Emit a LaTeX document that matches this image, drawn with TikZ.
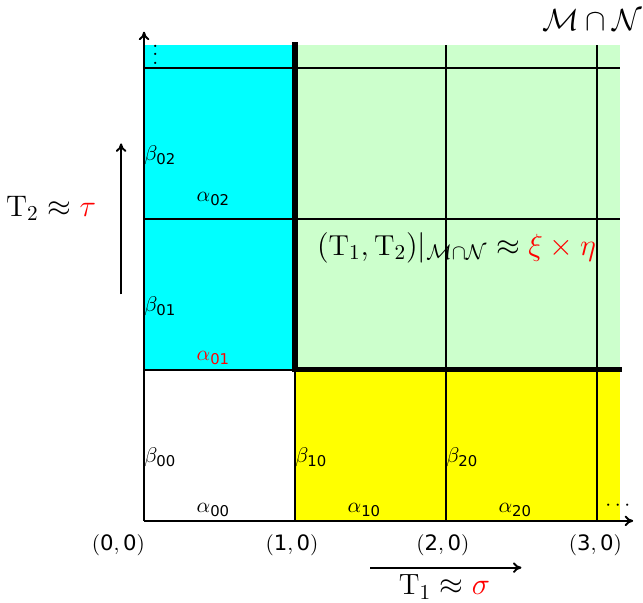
\documentclass[tikz,border=0pt]{standalone}
\usepackage{amsmath}
\usepackage{fontspec}
\setsansfont{DejaVu Sans}
\usetikzlibrary{
  arrows.meta % For arrow tips
}
\definecolor{aqua}{RGB}{0,255,255}
\definecolor{paleg}{RGB}{204,255,204}
\definecolor{lemon}{RGB}{255,255,0}

\begin{document}
\begin{tikzpicture}[
      x=2.5cm, y=2.5cm, % One cell
      >={To[length=4pt,width=5pt]}, % Default arrow tip
      gridline/.style={black, line width=1pt}, % Thin grid lines
      heavyline/.style={black, line width=2.4pt, line cap=rect}, % Border of M cap N
      axis/.style={black, line width=0.9pt, ->}, % Axes and direction arrows
      alabel/.style={inner sep=1pt}, % Labels alpha
      blabel/.style={anchor=west, inner sep=0pt}, % Labels beta
      coordlabel/.style={font=\normalsize}, % Points on the axis
      biglabel/.style={font=\fontsize{13.8}{16}\selectfont}, % Large formulas
    ]

    \useasboundingbox (-0.954,-0.543) rectangle (3.305,3.450);

    % Grenzen
    \def\xr{3.152}
    \def\yt{3.152}

    % Flächen
    \fill[aqua] (0,1) rectangle (1,\yt);
    \fill[paleg] (1,1) rectangle (\xr,\yt);
    \fill[lemon] (1,0) rectangle (\xr,1);

    % Gitter
    \foreach \i in {1,2,3}
    \draw[gridline] (\i,0) -- (\i,\yt);
    \foreach \j in {1,2,3}
    \draw[gridline] (0,\j) -- (\xr,\j);
    \draw[heavyline] (1,\yt) -- (1,1) -- (\xr,1);

    % Achsen
    \coordinate (O) at (0,0);
    \coordinate (xend) at (3.24,0);
    \coordinate (yend) at (0,3.24);
    \draw[axis] (O) -- (xend);
    \draw[axis] (O) -- (yend);
    \node (vdots) at (0.075,3.13) {$\vdots$};
    \node (hdots) at (3.15,0.1) {$\cdots$};

    % Punkte auf der Achse
    \foreach \i/\px in {0/-0.17, 1/0.98, 2/1.98, 3/2.99}
    \node[coordlabel] (c\i) at (\px,-0.16) {$(\textsf{\i},\textsf{0})$};

    % Beschriftung der Zellen
    \foreach \i/\j/\ax/\ay in {0/0/0.46/0.07, 1/0/1.46/0.07, 2/0/2.46/0.07, 0/2/0.46/2.13}
    \node[alabel] (a\i\j) at (\ax,\ay) {$\alpha_{\textsf{\i\j}}$};
    \node[alabel, red] (a01) at (0.46,1.08) {$\alpha_{\textsf{01}}$};
    \foreach \i/\j in {0/0, 1/0, 2/0, 0/1, 0/2}
    \node[blabel] (b\i\j) at (\i,\j+0.42) {$\beta_{\textsf{\i\j}}$};

    % Formeln
    \node[biglabel, font=\fontsize{15}{18}\selectfont] (MN) at (2.97,3.32) {$\mathcal{M}\cap\mathcal{N}$};
    \node[biglabel, font=\fontsize{13.6}{16}\selectfont] (restr) at (2.07,1.81)
    {$(\mathrm{T}_1,\mathrm{T}_2)|_{\mathcal{M}\cap\mathcal{N}}\approx\textcolor{red}{\xi\times\eta}$};

    % Richtungen
    \coordinate (t1a) at (1.5,-0.31);
    \coordinate (t1b) at (2.5,-0.31);
    \draw[axis] (t1a) -- (t1b);
    \node[biglabel] (T1) at (1.99,-0.44) {$\mathrm{T}_1\approx\textcolor{red}{\sigma}$};
    \coordinate (t2a) at (-0.152,1.5);
    \coordinate (t2b) at (-0.152,2.5);
    \draw[axis] (t2a) -- (t2b);
    \node[biglabel, font=\fontsize{14}{17}\selectfont] (T2) at (-0.616,2.07) {$\mathrm{T}_2\approx\textcolor{red}{\tau}$};

  \end{tikzpicture}
\end{document}
